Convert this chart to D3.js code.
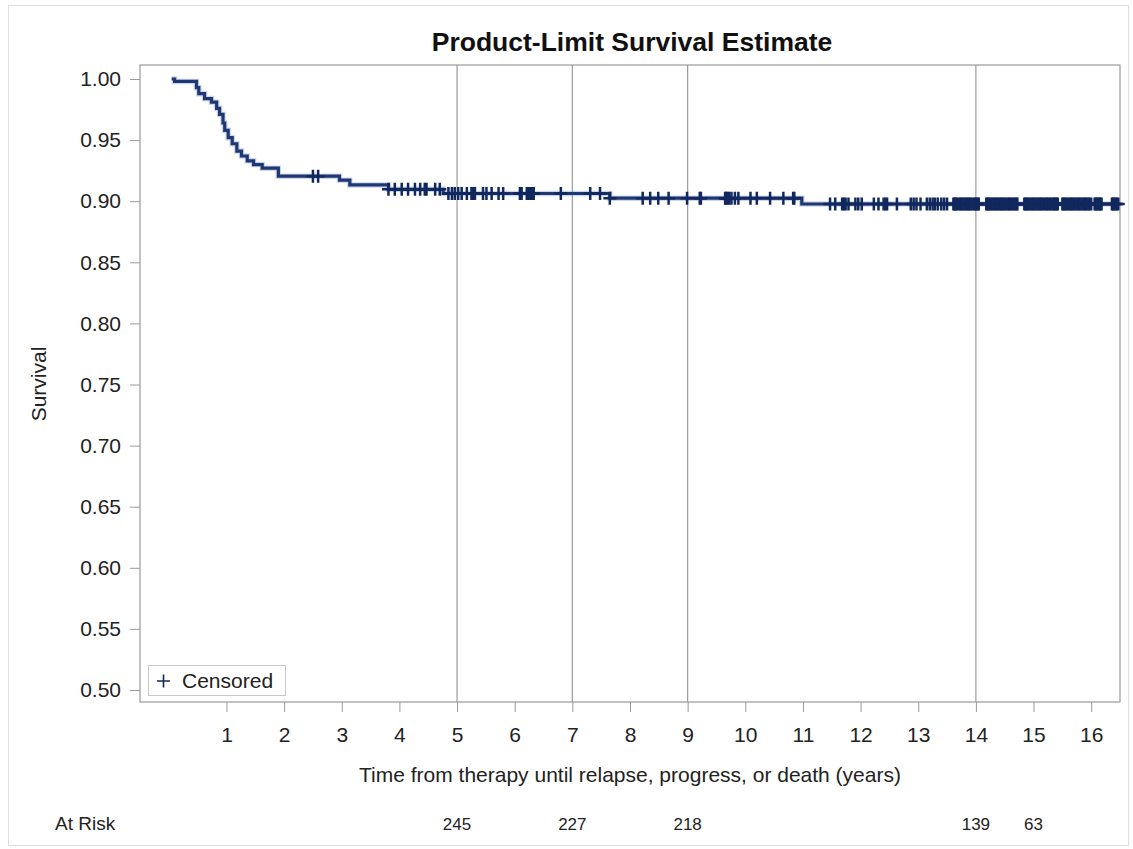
<!DOCTYPE html>
<html><head><meta charset="utf-8">
<script src="https://cdn.jsdelivr.net/npm/d3@7"></script>
<style>body{margin:0;background:#fff;} svg{display:block;font-family:"Liberation Sans",Arial,sans-serif;}</style>
</head><body><svg id="c" width="1133" height="849"></svg>
<script>
// ---- data ----
const curveStart = 0.05;
const eventTimes    = [0.10, 0.48, 0.52, 0.62, 0.74, 0.83, 0.88, 0.94, 0.97, 1.03, 1.10, 1.18, 1.26, 1.36, 1.47, 1.62, 1.90, 2.96, 3.14, 3.81, 4.76, 7.65, 10.98];
const eventSurvival = [0.998, 0.993, 0.988, 0.984, 0.981, 0.976, 0.971, 0.964, 0.958, 0.952, 0.947, 0.941, 0.937, 0.933, 0.930, 0.927, 0.9205, 0.9172, 0.9133, 0.9097, 0.9063, 0.9025, 0.8977];
const censorTimes = [
  2.50, 2.59, 3.81, 3.92, 4.04, 4.15, 4.27, 4.36, 4.44, 4.47, 4.62, 4.70,
  4.85, 4.91, 4.96, 5.02, 5.08, 5.17, 5.25, 5.27, 5.29, 5.31, 5.45, 5.51, 5.60, 5.72, 5.80,
  6.09, 6.12, 6.21, 6.23, 6.25, 6.27, 6.29, 6.31, 6.33, 6.80, 7.31, 7.48, 7.65,
  8.22, 8.35, 8.49, 8.67, 8.99, 9.21, 9.23, 9.65, 9.67, 9.69, 9.72, 9.76, 9.82, 9.88, 10.09, 10.20, 10.43, 10.66, 10.83, 10.85,
  11.47, 11.56, 11.68, 11.71, 11.74, 11.79, 11.91, 11.96, 12.02, 12.23, 12.31, 12.40, 12.43, 12.46, 12.63,
  12.87, 12.92, 12.97, 13.04, 13.15, 13.20, 13.25, 13.29, 13.34, 13.40, 13.45, 13.50,
  13.61, 13.63, 13.65, 13.67, 13.70, 13.73, 13.75, 13.77, 13.80, 13.82, 13.85, 13.87, 13.89, 13.91, 13.94, 13.97, 13.99, 14.01, 14.03, 14.05,
  14.18, 14.20, 14.22, 14.24, 14.27, 14.29, 14.32, 14.34, 14.36, 14.39, 14.41, 14.44, 14.46, 14.48, 14.51, 14.53, 14.56, 14.58, 14.60, 14.63, 14.65, 14.68, 14.70, 14.72,
  14.84, 14.86, 14.88, 14.90, 14.93, 14.95, 14.98, 15.00, 15.02, 15.05, 15.07, 15.10, 15.12, 15.14, 15.17, 15.19, 15.22, 15.24, 15.26, 15.29, 15.31, 15.34, 15.36, 15.38, 15.40, 15.42,
  15.50, 15.52, 15.54, 15.56, 15.59, 15.61, 15.64, 15.66, 15.68, 15.71, 15.73, 15.76, 15.78, 15.80, 15.83, 15.85, 15.88, 15.90, 15.92, 15.95, 15.97, 16.00,
  16.06, 16.08, 16.10, 16.12, 16.14, 16.16, 16.18, 16.36, 16.38, 16.40, 16.42, 16.44, 16.47
];
const xTicks = [1, 2, 3, 4, 5, 6, 7, 8, 9, 10, 11, 12, 13, 14, 15, 16];
const yTicks = [0.50, 0.55, 0.60, 0.65, 0.70, 0.75, 0.80, 0.85, 0.90, 0.95, 1.00];
const refLines = [5, 7, 9, 14];
const atRiskTimes  = [5, 7, 9, 14, 15];
const atRiskCounts = [245, 227, 218, 139, 63];
const titleText = "Product-Limit Survival Estimate";
const xLabel = "Time from therapy until relapse, progress, or death (years)";
const yLabel = "Survival";
const legendLabel = "Censored";
const atRiskLabel = "At Risk";

// ---- layout ----
const svg = d3.select("#c");
const L = 140, R = 1120, T = 65, B = 702;
const x = d3.scaleLinear().domain([-0.5, 16.5]).range([L, R]);
const y = d3.scaleLinear().domain([0.5 - 12/1222, 1 + 14/1222]).range([B, T]);
const lineCol = "#1f3873", markCol = "#10285e", gridCol = "#9a9a9a";

// outer border
svg.append("rect").attr("x", 8.5).attr("y", 5.5).attr("width", 1120).attr("height", 840)
  .attr("fill", "#fff").attr("stroke", "#dedede");

// reference lines
svg.append("g").selectAll("line").data(refLines).join("line")
  .attr("x1", d => x(d)).attr("x2", d => x(d)).attr("y1", T).attr("y2", B)
  .attr("stroke", gridCol).attr("stroke-width", 1.2);

// axes
const xa = svg.append("g").attr("transform", `translate(0,${B})`)
  .call(d3.axisBottom(x).tickValues(xTicks).tickSize(10).tickPadding(15).tickFormat(d3.format("d")));
const ya = svg.append("g").attr("transform", `translate(${L},0)`)
  .call(d3.axisLeft(y).tickValues(yTicks).tickSize(10).tickPadding(9).tickFormat(d3.format(".2f")));
[xa, ya].forEach(g => {
  g.select(".domain").remove();
  g.selectAll(".tick line").attr("stroke", gridCol);
  g.selectAll("text").attr("font-size", 21).attr("fill", "#222").attr("font-family", "Liberation Sans, Arial, sans-serif");
});

// frame
svg.append("rect").attr("x", L).attr("y", T).attr("width", R - L).attr("height", B - T)
  .attr("fill", "none").attr("stroke", gridCol).attr("stroke-width", 1.2);

// step curve
const tEnd = d3.max(censorTimes);
const pts = [[curveStart, 1.0]].concat(eventTimes.map((t, i) => [t, eventSurvival[i]]));
pts.push([tEnd, eventSurvival[eventSurvival.length - 1]]);
const line = d3.line().x(d => x(d[0])).y(d => y(d[1])).curve(d3.curveStepAfter);
svg.append("path").datum(pts).attr("d", line).attr("fill", "none")
  .attr("stroke", "#6f86c4").attr("stroke-width", 5.5).attr("stroke-opacity", 0.35);
svg.append("path").datum(pts).attr("d", line).attr("fill", "none")
  .attr("stroke", lineCol).attr("stroke-width", 3.2).attr("stroke-linejoin", "miter");

// censored marks
function survAt(t) {
  let s = 1.0;
  eventTimes.forEach((et, i) => { if (et <= t) s = eventSurvival[i]; });
  return s;
}
const hs = 6.5;
svg.append("g").selectAll("path").data(censorTimes).join("path")
  .attr("d", t => { const cx = x(t), cy = y(survAt(t));
    return `M${cx - hs},${cy}H${cx + hs}M${cx},${cy - hs}V${cy + hs}`; })
  .attr("stroke", markCol).attr("stroke-width", 2.5).attr("fill", "none");

// title
svg.append("text").attr("x", 632).attr("y", 51).attr("text-anchor", "middle")
  .attr("font-size", 26.5).attr("font-weight", "bold").attr("fill", "#111").text(titleText);
// x label
svg.append("text").attr("x", (L + R) / 2).attr("y", 782).attr("text-anchor", "middle")
  .attr("font-size", 21).attr("fill", "#222").text(xLabel);
// y label
svg.append("text").attr("transform", `translate(46,384) rotate(-90)`).attr("text-anchor", "middle")
  .attr("font-size", 21).attr("fill", "#222").text(yLabel);

// legend
const lg = svg.append("g");
lg.append("rect").attr("x", 148.5).attr("y", 665.5).attr("width", 137).attr("height", 30)
  .attr("fill", "#fff").attr("stroke", "#c8c8c8");
lg.append("path").attr("d", `M157,681H170M163.5,674.5V687.5`).attr("stroke", markCol).attr("stroke-width", 1.6);
lg.append("text").attr("x", 182).attr("y", 688).attr("font-size", 21).attr("fill", "#222").text(legendLabel);

// at risk row
svg.append("text").attr("x", 55).attr("y", 830).attr("font-size", 19).attr("fill", "#222").text(atRiskLabel);
svg.append("g").selectAll("text").data(atRiskTimes).join("text")
  .attr("x", d => x(d)).attr("y", 830).attr("text-anchor", "middle")
  .attr("font-size", 17).attr("fill", "#222").text((d, i) => atRiskCounts[i]);
</script></body></html>
